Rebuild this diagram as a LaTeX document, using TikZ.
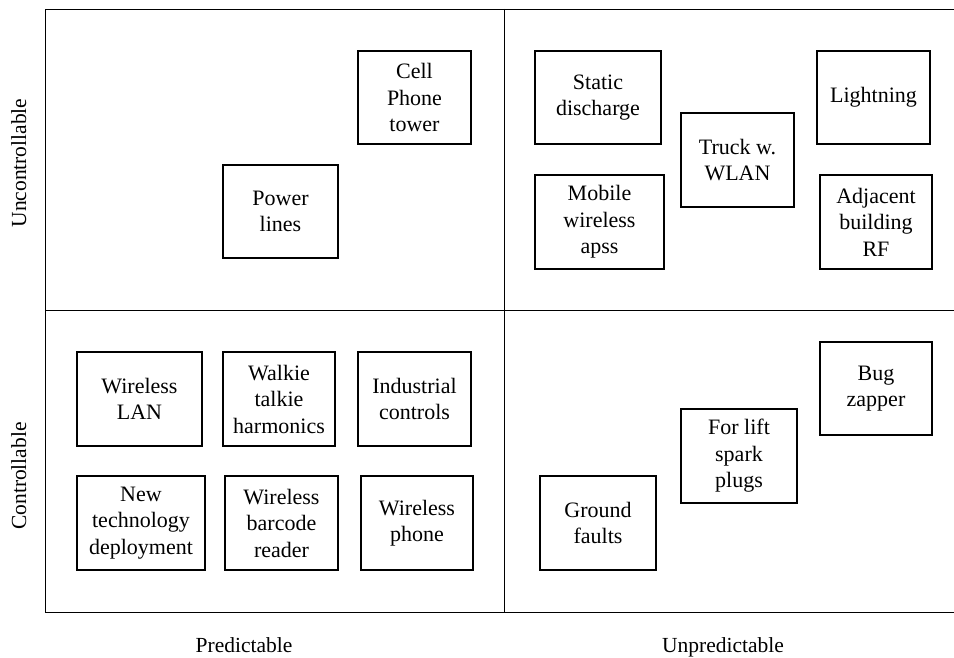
\documentclass[tikz,border=0pt]{standalone}
\usepackage{fontspec}
\setmainfont{Liberation Serif}
\begin{document}
\begin{tikzpicture}[x=1pt,y=-1pt,
  frame/.style={line width=0.9pt, black},
  box/.style={draw, line width=1.3pt, inner sep=0pt, align=center,
    font=\fontsize{22}{26.5}\selectfont},
  axislabel/.style={font=\fontsize{21.5}{26}\selectfont, inner sep=0pt}]
\useasboundingbox (0,0) rectangle (954,658);
% frame
\coordinate (tl) at (45,9);
\coordinate (tr) at (954,9);
\coordinate (ml) at (45,310);
\coordinate (mr) at (954,310);
\coordinate (bl) at (45,612);
\coordinate (br) at (954,612);
\coordinate (vt) at (504,9);
\coordinate (vb) at (504,612);
\draw[frame] (tr) -- (tl) -- (bl) -- (br);
\draw[frame] (ml) -- (mr);
\draw[frame] (vt) -- (vb);
% axis labels
\node[axislabel, rotate=90, anchor=base] (unc) at (26,163) {Uncontrollable};
\node[axislabel, rotate=90, anchor=base] (con) at (26,476) {Controllable};
\node[axislabel, anchor=base] (pre) at (244,652) {Predictable};
\node[axislabel, anchor=base] (unp) at (723,652) {Unpredictable};
% top-left
\node[box, minimum width=113, minimum height=93] (cell) at (414.5,97.5) {Cell\\Phone\\tower};
\node[box, minimum width=115, minimum height=93] (power) at (280.5,211.5) {Power\\lines};
% top-right
\node[box, minimum width=126, minimum height=93] (static) at (598,97.5) {Static\\discharge};
\node[box, minimum width=113, minimum height=93] (light) at (873.5,97.5) {Lightning};
\node[box, minimum width=113, minimum height=94] (truck) at (737.5,160) {Truck w.\\WLAN};
\node[box, minimum width=129, minimum height=94] (mobile) at (599.5,222) {Mobile\\wireless\\apss};
\node[box, minimum width=112, minimum height=94] (adj) at (876,222) {Adjacent\\building\\RF};
% bottom-left
\node[box, minimum width=125, minimum height=94] (wlan) at (139.5,399) {Wireless\\LAN};
\node[box, minimum width=112, minimum height=94] (walkie) at (279,399) {Walkie\\talkie\\harmonics};
\node[box, minimum width=113, minimum height=94] (ind) at (414.5,399) {Industrial\\controls};
\node[box, minimum width=128, minimum height=94] (newtech) at (141,523) {New\\technology\\deployment};
\node[box, minimum width=113, minimum height=94] (barcode) at (281.5,523) {Wireless\\barcode\\reader};
\node[box, minimum width=112, minimum height=94] (phone) at (417,523) {Wireless\\phone};
% bottom-right
\node[box, minimum width=112, minimum height=93] (bug) at (876,388.5) {Bug\\zapper};
\node[box, minimum width=116, minimum height=94] (lift) at (739,456) {For lift\\spark\\plugs};
\node[box, minimum width=116, minimum height=94] (ground) at (598,523) {Ground\\faults};
\end{tikzpicture}
\end{document}
